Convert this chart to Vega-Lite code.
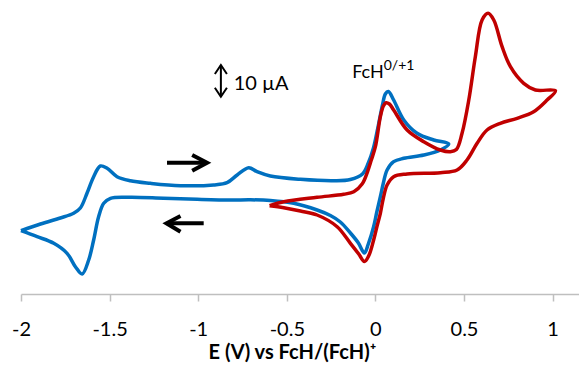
{
  "$schema": "https://vega.github.io/schema/vega-lite/v6.json",
  "width": 558,
  "height": 290,
  "autosize": "none",
  "padding": {"left": 21, "top": 4, "right": 0, "bottom": 71},
  "background": "white",
  "config": {"view": {"stroke": null}},
  "datasets": {
    "cv": [
      {"s":"blue","i":1,"E":-2.000,"I":-10.23},{"s":"blue","i":2,"E":-1.890,"I":-8.0},{"s":"blue","i":3,"E":-1.778,"I":-6.0},{"s":"blue","i":4,"E":-1.703,"I":-4.43},{"s":"blue","i":5,"E":-1.665,"I":-2.67},{"s":"blue","i":6,"E":-1.627,"I":2.33},{"s":"blue","i":7,"E":-1.590,"I":7.77},{"s":"blue","i":8,"E":-1.552,"I":11.33},{"s":"blue","i":9,"E":-1.514,"I":10.57},{"s":"blue","i":10,"E":-1.458,"I":7.77},{"s":"blue","i":11,"E":-1.383,"I":6.43},{"s":"blue","i":12,"E":-1.270,"I":5.57},{"s":"blue","i":13,"E":-1.100,"I":4.77},{"s":"blue","i":14,"E":-0.913,"I":5.0},{"s":"blue","i":15,"E":-0.837,"I":5.77},{"s":"blue","i":16,"E":-0.780,"I":8.33},{"s":"blue","i":17,"E":-0.715,"I":10.77},{"s":"blue","i":18,"E":-0.668,"I":9.43},{"s":"blue","i":19,"E":-0.593,"I":8.0},{"s":"blue","i":20,"E":-0.423,"I":6.9},{"s":"blue","i":21,"E":-0.235,"I":6.43},{"s":"blue","i":22,"E":-0.141,"I":6.83},{"s":"blue","i":23,"E":-0.073,"I":8.67},{"s":"blue","i":24,"E":-0.040,"I":12.33},{"s":"blue","i":25,"E":-0.011,"I":17.33},{"s":"blue","i":26,"E":0.017,"I":25.0},{"s":"blue","i":27,"E":0.040,"I":31.67},{"s":"blue","i":28,"E":0.056,"I":35.33},{"s":"blue","i":29,"E":0.073,"I":36.17},{"s":"blue","i":30,"E":0.103,"I":33.33},{"s":"blue","i":31,"E":0.160,"I":26.67},{"s":"blue","i":32,"E":0.235,"I":22.23},{"s":"blue","i":33,"E":0.329,"I":20.0},{"s":"blue","i":34,"E":0.414,"I":18.67},{"s":"blue","i":35,"E":0.367,"I":16.67},{"s":"blue","i":36,"E":0.273,"I":15.0},{"s":"blue","i":37,"E":0.160,"I":13.9},{"s":"blue","i":38,"E":0.103,"I":12.77},{"s":"blue","i":39,"E":0.066,"I":10.0},{"s":"blue","i":40,"E":0.045,"I":5.67},{"s":"blue","i":41,"E":0.028,"I":1.1},{"s":"blue","i":42,"E":0.008,"I":-4.0},{"s":"blue","i":43,"E":-0.010,"I":-8.9},{"s":"blue","i":44,"E":-0.040,"I":-14.67},{"s":"blue","i":45,"E":-0.062,"I":-17.67},{"s":"blue","i":46,"E":-0.096,"I":-14.33},{"s":"blue","i":47,"E":-0.141,"I":-11.0},{"s":"blue","i":48,"E":-0.198,"I":-7.33},{"s":"blue","i":49,"E":-0.254,"I":-5.17},{"s":"blue","i":50,"E":-0.329,"I":-3.33},{"s":"blue","i":51,"E":-0.461,"I":-1.1},{"s":"blue","i":52,"E":-0.593,"I":-0.17},{"s":"blue","i":53,"E":-0.705,"I":0.07},{"s":"blue","i":54,"E":-0.818,"I":0},{"s":"blue","i":55,"E":-1.006,"I":0.23},{"s":"blue","i":56,"E":-1.195,"I":0.57},{"s":"blue","i":57,"E":-1.383,"I":0.9},{"s":"blue","i":58,"E":-1.495,"I":0.57},{"s":"blue","i":59,"E":-1.533,"I":-1.1},{"s":"blue","i":60,"E":-1.562,"I":-5.57},{"s":"blue","i":61,"E":-1.590,"I":-13.33},{"s":"blue","i":62,"E":-1.618,"I":-20.0},{"s":"blue","i":63,"E":-1.655,"I":-24.67},{"s":"blue","i":64,"E":-1.693,"I":-22.23},{"s":"blue","i":65,"E":-1.740,"I":-17.77},{"s":"blue","i":66,"E":-1.815,"I":-14.43},{"s":"blue","i":67,"E":-1.909,"I":-12.23},{"s":"blue","i":68,"E":-2.000,"I":-10.23},
      {"s":"red","i":1,"E":-0.597,"I":-1.9},{"s":"red","i":2,"E":-0.517,"I":-0.57},{"s":"red","i":3,"E":-0.329,"I":0.9},{"s":"red","i":4,"E":-0.179,"I":1.9},{"s":"red","i":5,"E":-0.122,"I":2.77},{"s":"red","i":6,"E":-0.075,"I":5.33},{"s":"red","i":7,"E":-0.045,"I":9.33},{"s":"red","i":8,"E":-0.023,"I":13.33},{"s":"red","i":9,"E":0.000,"I":17.77},{"s":"red","i":10,"E":0.028,"I":27.77},{"s":"red","i":11,"E":0.045,"I":31.33},{"s":"red","i":12,"E":0.060,"I":32.43},{"s":"red","i":13,"E":0.079,"I":32.0},{"s":"red","i":14,"E":0.103,"I":30.0},{"s":"red","i":15,"E":0.179,"I":23.33},{"s":"red","i":16,"E":0.273,"I":19.43},{"s":"red","i":17,"E":0.367,"I":16.67},{"s":"red","i":18,"E":0.423,"I":16.1},{"s":"red","i":19,"E":0.457,"I":16.83},{"s":"red","i":20,"E":0.489,"I":22.23},{"s":"red","i":21,"E":0.527,"I":33.33},{"s":"red","i":22,"E":0.564,"I":47.77},{"s":"red","i":23,"E":0.602,"I":60.0},{"s":"red","i":24,"E":0.636,"I":62.23},{"s":"red","i":25,"E":0.668,"I":60.0},{"s":"red","i":26,"E":0.715,"I":51.1},{"s":"red","i":27,"E":0.762,"I":44.43},{"s":"red","i":28,"E":0.837,"I":38.9},{"s":"red","i":29,"E":0.903,"I":36.67},{"s":"red","i":30,"E":1.016,"I":36.43},{"s":"red","i":31,"E":0.969,"I":33.33},{"s":"red","i":32,"E":0.893,"I":29.43},{"s":"red","i":33,"E":0.800,"I":27.23},{"s":"red","i":34,"E":0.705,"I":25.57},{"s":"red","i":35,"E":0.630,"I":23.33},{"s":"red","i":36,"E":0.574,"I":18.9},{"s":"red","i":37,"E":0.517,"I":13.33},{"s":"red","i":38,"E":0.461,"I":10.0},{"s":"red","i":39,"E":0.367,"I":9.1},{"s":"red","i":40,"E":0.179,"I":8.67},{"s":"red","i":41,"E":0.103,"I":7.77},{"s":"red","i":42,"E":0.066,"I":5.0},{"s":"red","i":43,"E":0.045,"I":0.67},{"s":"red","i":44,"E":0.028,"I":-4.43},{"s":"red","i":45,"E":0.008,"I":-9.0},{"s":"red","i":46,"E":-0.010,"I":-13.33},{"s":"red","i":47,"E":-0.037,"I":-18.5},{"s":"red","i":48,"E":-0.062,"I":-20.5},{"s":"red","i":49,"E":-0.094,"I":-18.0},{"s":"red","i":50,"E":-0.141,"I":-14.43},{"s":"red","i":51,"E":-0.216,"I":-8.9},{"s":"red","i":52,"E":-0.329,"I":-5.0},{"s":"red","i":53,"E":-0.423,"I":-3.67},{"s":"red","i":54,"E":-0.517,"I":-2.57},{"s":"red","i":55,"E":-0.597,"I":-1.9}
    ],
    "arrows": [
      {"g":"r1","i":1,"E":-1.176,"I":12.43},{"g":"r1","i":2,"E":-0.955,"I":12.43},
      {"g":"r2","i":1,"E":-1.034,"I":15.0},{"g":"r2","i":2,"E":-0.950,"I":12.43},{"g":"r2","i":3,"E":-1.034,"I":9.77},
      {"g":"l1","i":1,"E":-0.969,"I":-7.77},{"g":"l1","i":2,"E":-1.174,"I":-7.77},
      {"g":"l2","i":1,"E":-1.100,"I":-5.33},{"g":"l2","i":2,"E":-1.179,"I":-7.77},{"g":"l2","i":3,"E":-1.100,"I":-10.57}
    ],
    "bar": [
      {"g":"s1","i":1,"E":-0.872,"I":45.0},{"g":"s1","i":2,"E":-0.872,"I":34.43},
      {"g":"s2","i":1,"E":-0.906,"I":42.0},{"g":"s2","i":2,"E":-0.872,"I":45.0},{"g":"s2","i":3,"E":-0.838,"I":42.0},
      {"g":"s3","i":1,"E":-0.906,"I":37.43},{"g":"s3","i":2,"E":-0.872,"I":34.43},{"g":"s3","i":3,"E":-0.838,"I":37.43}
    ],
    "labels": [
      {"t":"10 µA","E":-0.800,"I":36.83,"k":"big"},
      {"t":"FcH","E":-0.131,"I":40.57,"k":"mid"}
    ],
    "sup": [
      {"t":"0/+1","E":0.047,"I":43.17}
    ]
  },
  "encoding": {
    "x": {
      "field": "E", "type": "quantitative",
      "scale": {"domain": [-2, 1.149], "nice": false, "zero": false},
      "axis": {
        "values": [-2, -1.5, -1, -0.5, 0, 0.5, 1],
        "labelExpr": "'' + datum.value",
        "grid": false,
        "domainColor": "#bfbfbf", "domainWidth": 1.5,
        "tickColor": "#bfbfbf", "tickWidth": 1.5, "tickSize": 7,
        "labelFont": "Lato", "labelFontSize": 20, "labelColor": "#000000",
        "labelBaseline": "alphabetic", "labelPadding": 34,
        "labelFlush": false, "labelOverlap": false,
        "title": "E (V) vs FcH/(FcH)⁺",
        "titleFont": "Lato", "titleFontSize": 20, "titleFontWeight": "bold", "titleColor": "#000000",
        "titleX": 271, "titleY": 64, "titleAlign": "center", "titleBaseline": "alphabetic", "titleAnchor": null
      }
    },
    "y": {
      "field": "I", "type": "quantitative",
      "scale": {"domain": [-31.333, 65.333], "nice": false, "zero": false},
      "axis": null
    }
  },
  "layer": [
    {
      "data": {"name": "cv"},
      "mark": {"type": "line", "strokeWidth": 3.5, "interpolate": "catmull-rom", "strokeJoin": "round"},
      "encoding": {
        "color": {"field": "s", "type": "nominal", "scale": {"domain": ["blue", "red"], "range": ["#0070C0", "#C00000"]}, "legend": null},
        "order": {"field": "i", "type": "quantitative"}
      }
    },
    {
      "data": {"name": "arrows"},
      "mark": {"type": "line", "strokeWidth": 4, "color": "#000000", "strokeJoin": "miter", "strokeCap": "butt"},
      "encoding": {
        "detail": {"field": "g", "type": "nominal"},
        "order": {"field": "i", "type": "quantitative"}
      }
    },
    {
      "data": {"name": "bar"},
      "mark": {"type": "line", "strokeWidth": 2, "color": "#000000", "strokeJoin": "miter", "strokeCap": "butt"},
      "encoding": {
        "detail": {"field": "g", "type": "nominal"},
        "order": {"field": "i", "type": "quantitative"}
      }
    },
    {
      "data": {"name": "labels"},
      "mark": {"type": "text", "font": "Lato", "align": "left", "baseline": "alphabetic", "color": "#000000"},
      "encoding": {
        "text": {"field": "t"},
        "size": {"field": "k", "type": "nominal", "scale": {"domain": ["big", "mid"], "range": [20, 18]}, "legend": null}
      }
    },
    {
      "data": {"name": "sup"},
      "mark": {"type": "text", "font": "Lato", "align": "left", "baseline": "alphabetic", "color": "#000000", "fontSize": 14},
      "encoding": {"text": {"field": "t"}}
    }
  ]
}
